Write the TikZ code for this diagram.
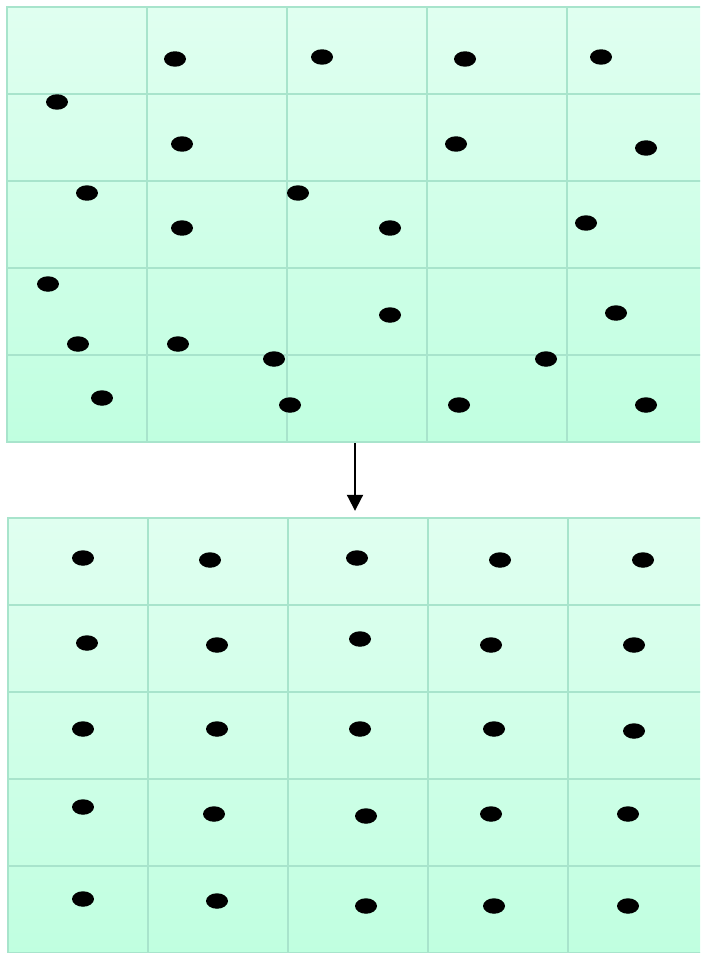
\documentclass[tikz,border=0pt]{standalone}
\usepackage{xcolor}
\usepackage{tikz}
\usetikzlibrary{shapes.geometric, arrows.meta, positioning}

\definecolor{mintTop}{RGB}{224,255,240}
\definecolor{mintBottom}{RGB}{192,255,224}
\definecolor{gridLine}{RGB}{168,228,204}

\begin{document}
\begin{tikzpicture}[
    x=0.02cm, y=-0.02cm,
    cellgrid/.style={draw=gridLine, line width=1.4pt, top color=mintTop, bottom color=mintBottom,
                     minimum width=14cm, minimum height=8.7cm, inner sep=0pt},
    gline/.style={draw=gridLine, line width=1.4pt},
    dot/.style={ellipse, fill=black, minimum width=0.44cm, minimum height=0.31cm, inner sep=0pt},
    arr/.style={-{Triangle[length=0.32cm, width=0.32cm]}, line width=1.1pt}
]
\useasboundingbox (0,0) rectangle (700,953);
\clip (0,0) rectangle (700,953);

% Scattered points (top grid)
\node[cellgrid] (scattered) at (357,224.5) {};
\foreach \gx in {147,287,427,567}
    \draw[gline] (\gx,7) -- (\gx,442);
\foreach \gy in {94,181,268,355}
    \draw[gline] (7,\gy) -- (707,\gy);
\foreach \px/\py [count=\k] in {175/59, 322/57, 465/59, 601/57,
    57/102, 182/144, 456/144, 646/148,
    87/193, 298/193, 182/228, 390/228, 586/223,
    48/284, 390/315, 616/313,
    78/344, 178/344, 274/359, 546/359,
    102/398, 290/405, 459/405, 646/405}
    \node[dot] (s\k) at (\px,\py) {};

% Regular points (bottom grid)
\node[cellgrid] (regular) at (358,735.5) {};
\foreach \gx in {148,288,428,568}
    \draw[gline] (\gx,518) -- (\gx,953);
\foreach \gy in {605,692,779,866}
    \draw[gline] (8,\gy) -- (708,\gy);
\foreach \px/\py [count=\k] in {83/558, 210/560, 357/558, 500/560, 643/560,
    87/643, 217/645, 360/639, 491/645, 634/645,
    83/729, 217/729, 360/729, 494/729, 634/731,
    83/807, 214/814, 366/816, 491/814, 628/814,
    83/899, 217/901, 366/906, 494/906, 628/906}
    \node[dot] (r\k) at (\px,\py) {};

% Scattered --> regular
\draw[arr, shorten >=0.12cm] ([xshift=-0.04cm]scattered.south) -- ([xshift=-0.06cm]regular.north);

\end{tikzpicture}
\end{document}
